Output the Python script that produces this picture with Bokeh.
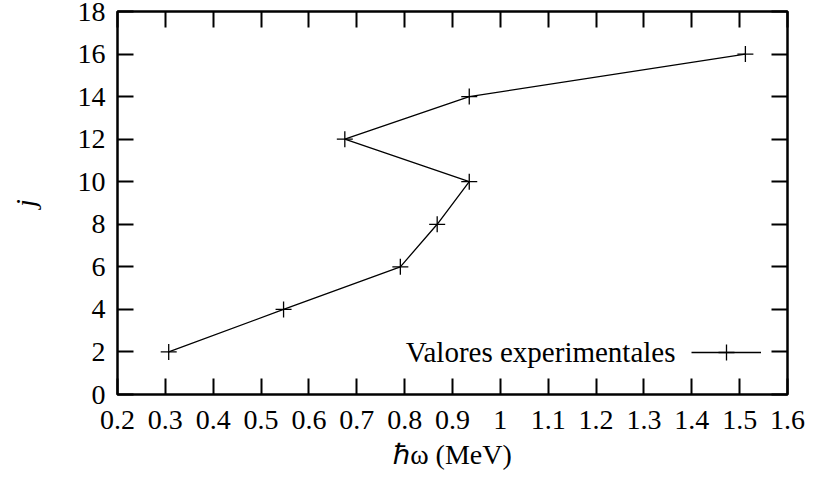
from bokeh.plotting import figure
from bokeh.models import FixedTicker, LinearAxis, Range1d, Legend, LegendItem, Label
from bokeh.embed import file_html
from bokeh.resources import INLINE

# data
hw = [0.307, 0.547, 0.791, 0.868, 0.935, 0.675, 0.935, 1.512]
jvals = [2, 4, 6, 8, 10, 12, 14, 16]

x_ticks = [0.2, 0.3, 0.4, 0.5, 0.6, 0.7, 0.8, 0.9, 1.0, 1.1, 1.2, 1.3, 1.4, 1.5, 1.6]
x_tick_labels = ["0.2", "0.3", "0.4", "0.5", "0.6", "0.7", "0.8", "0.9", "1",
                 "1.1", "1.2", "1.3", "1.4", "1.5", "1.6"]
y_ticks = [0, 2, 4, 6, 8, 10, 12, 14, 16, 18]
y_tick_labels = ["0", "2", "4", "6", "8", "10", "12", "14", "16", "18"]
series_name = "Valores experimentales"

FONT = "Liberation Serif"
FS = "28px"

p = figure(width=814, height=482, output_backend="svg", toolbar_location=None,
           x_range=Range1d(0.2, 1.6), y_range=Range1d(0, 18),
           min_border_left=117, min_border_right=27, min_border_top=11,
           min_border_bottom=88)
p.background_fill_color = "white"
p.border_fill_color = "white"
p.outline_line_color = "black"
p.outline_line_width = 2.5
p.xgrid.visible = False
p.ygrid.visible = False

def style_axis(ax, ticks, labels, show_labels, standoff=10):
    ax.ticker = FixedTicker(ticks=ticks)
    ax.major_label_overrides = {t: l for t, l in zip(ticks, labels)}
    ax.major_tick_in = 16
    ax.major_tick_out = 0
    ax.major_tick_line_width = 2
    ax.major_tick_line_color = "black"
    ax.minor_tick_line_color = None
    ax.axis_line_color = None
    ax.major_label_text_font = FONT
    ax.major_label_text_color = "black"
    if show_labels:
        ax.major_label_text_font_size = FS
        ax.major_label_standoff = standoff
    else:
        ax.major_label_text_font_size = "0px"
        ax.major_label_standoff = 0

xax = p.xaxis[0]
yax = p.yaxis[0]
style_axis(xax, x_ticks, x_tick_labels, True, standoff=16)
style_axis(yax, y_ticks, y_tick_labels, True, standoff=12)

top = LinearAxis()
style_axis(top, x_ticks, x_tick_labels, False)
p.add_layout(top, "above")
right = LinearAxis()
style_axis(right, y_ticks, y_tick_labels, False)
p.add_layout(right, "right")

xax.axis_label = "ℏω (MeV)"
xax.axis_label_text_font = FONT
xax.axis_label_text_font_size = FS
xax.axis_label_text_font_style = "normal"
xax.axis_label_text_color = "black"
xax.axis_label_standoff = 7

yax.axis_label = "j"
yax.axis_label_text_font = FONT
yax.axis_label_text_font_size = FS
yax.axis_label_text_font_style = "italic"
yax.axis_label_text_color = "black"
yax.axis_label_standoff = 34

lr = p.line(hw, jvals, line_color="black", line_width=1.3)
sr = p.scatter(hw, jvals, marker="cross", size=16, line_color="black", line_width=1.3)

legend = Legend(items=[LegendItem(label=" ", renderers=[lr, sr])],
                location=(574, 22), glyph_width=70, glyph_height=40, label_height=40,
                label_standoff=0, label_width=0,
                padding=0, margin=0, spacing=0,
                border_line_color=None, background_fill_alpha=0,
                label_text_font=FONT, label_text_font_size=FS, label_text_color="black")
p.add_layout(legend)

# legend text, placed to the left of the legend sample (as in the reference)
legend_text = Label(x=1.366, y=2, text=series_name, text_align="right",
                    text_baseline="middle", text_font=FONT, text_font_size="29px",
                    text_color="black")
p.add_layout(legend_text)

open("out.html", "w").write(file_html(p, INLINE))
